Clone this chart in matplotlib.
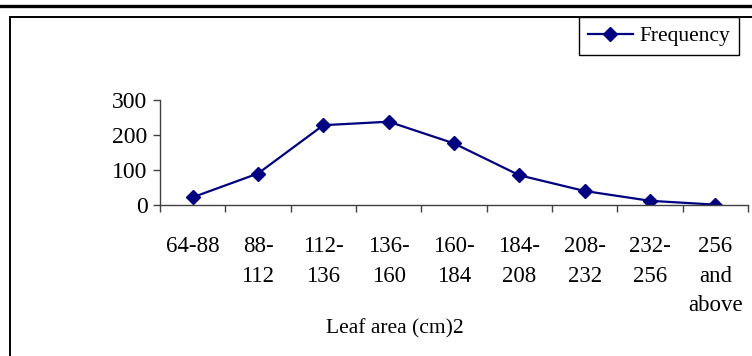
import matplotlib
matplotlib.use("Agg")
import matplotlib.pyplot as plt
from matplotlib.patches import Rectangle
from matplotlib.lines import Line2D

categories = ["64-88", "88-\n112", "112-\n136", "136-\n160", "160-\n184",
              "184-\n208", "208-\n232", "232-\n256", "256\nand\nabove"]
frequency = [22, 90, 228, 238, 176, 85, 40, 12, 1]
yticks = [0, 100, 200, 300]
series_name = "Frequency"
xlabel = "Leaf area (cm)2"

plt.rcParams['font.family'] = ['Liberation Serif', 'DejaVu Serif']
W, H = 752, 356
fig = plt.figure(figsize=(W / 100, H / 100), dpi=100)

def fx(px):
    return px / W

def fy(py):
    return 1 - py / H

# thick top rule
fig.add_artist(Line2D([0, 1], [fy(6), fy(6)], color='black', lw=2.4,
                      transform=fig.transFigure))
# chart frame (extends beyond right/bottom)
fig.add_artist(Rectangle((fx(10), fy(400)), fx(800), fy(17) - fy(400),
                         fill=False, edgecolor='black', lw=1.4,
                         transform=fig.transFigure))

ax = fig.add_axes([fx(160), fy(205), fx(748) - fx(160), fy(100) - fy(205)])
x = list(range(len(categories)))
ax.plot(x, frequency, color='#000080', lw=1.6, marker='D', markersize=7.5,
        label=series_name)
ax.set_xlim(-0.5, len(categories) - 0.5)
ax.set_ylim(0, 300)
for s in ['top', 'right']:
    ax.spines[s].set_visible(False)
for s in ['left', 'bottom']:
    ax.spines[s].set_color('#404040')
    ax.spines[s].set_linewidth(1.0)
ax.set_yticks(yticks)
ax.set_yticklabels([str(v) for v in yticks], fontsize=17)
ax.tick_params(axis='y', length=5, width=1, color='#404040', pad=4)
ax.set_xticks([i - 0.5 for i in range(len(categories) + 1)])
ax.set_xticklabels([])
ax.tick_params(axis='x', which='major', length=5, width=1, color='#404040')
ax.set_xticks(x, minor=True)
ax.set_xticklabels(categories, minor=True, fontsize=16.5, linespacing=1.56,
                   va='top')
ax.tick_params(axis='x', which='minor', length=0, pad=22)
ax.patch.set_alpha(0)

fig.text(fx(395), fy(329), xlabel, fontsize=15.5, ha='center', va='center')

leg = ax.legend(loc='upper right', bbox_to_anchor=(fx(739), fy(17)),
                bbox_transform=fig.transFigure, fancybox=False,
                edgecolor='black', framealpha=1, fontsize=15.5,
                handlelength=2.1, handletextpad=0.3, borderpad=0.42,
                borderaxespad=0)
leg.get_frame().set_linewidth(1.0)

fig.savefig("out.png", dpi=100)
